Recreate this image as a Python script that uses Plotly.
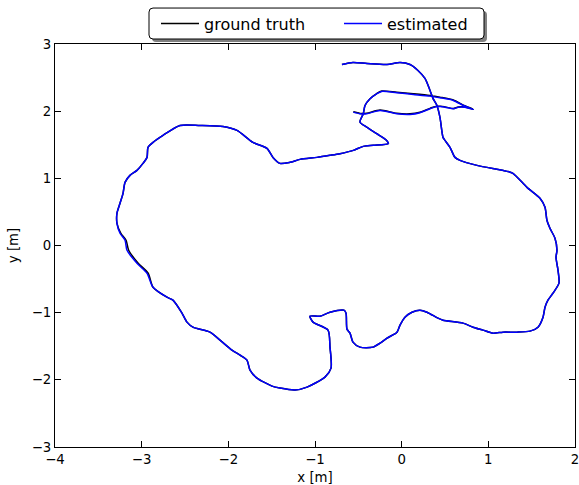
import plotly.graph_objects as go

# ground truth trajectory (metres)
gt_x = [-0.558, -0.481, -0.404, -0.250, -0.057, 0.096, 0.211, 0.327, 0.404, 0.500, 0.596, 0.653, 0.731, 0.826,
        0.711, 0.596, 0.442, 0.327, 0.134, -0.057, -0.231, -0.288, -0.365, -0.423, -0.443, -0.481, -0.404, -0.288,
        -0.173, -0.154, -0.327, -0.443, -0.558, -0.712, -0.827, -0.977, -1.173, -1.289, -1.404, -1.485, -1.554,
        -1.716, -1.900, -2.062, -2.327, -2.558, -2.754, -2.869, -2.927, -2.938, -2.985, -3.054, -3.135, -3.192,
        -3.215, -3.250, -3.285, -3.285, -3.240, -3.180, -3.150, -3.040, -2.925, -2.869, -2.708, -2.639, -2.535,
        -2.477, -2.408, -2.212, -2.096, -1.958, -1.865, -1.785, -1.750, -1.669, -1.496, -1.404, -1.231, -1.092,
        -0.885, -0.815, -0.827, -0.850, -1.023, -1.058, -0.942, -0.827, -0.666, -0.642, -0.631, -0.596, -0.562,
        -0.481, -0.331, -0.250, -0.169, -0.054, -0.019, 0.038, 0.119, 0.211, 0.292, 0.419, 0.477, 0.707, 0.823,
        0.938, 1.054, 1.169, 1.331, 1.481, 1.573, 1.631, 1.654, 1.688, 1.746, 1.815, 1.804, 1.781, 1.792, 1.769,
        1.711, 1.676, 1.654, 1.596, 1.446, 1.284, 1.215, 0.869, 0.673, 0.615, 0.558, 0.500, 0.477, 0.442, 0.407,
        0.361, 0.327, 0.269, 0.188, 0.096, -0.019, -0.169, -0.400, -0.562, -0.689]
gt_y = [1.990, 1.967, 1.968, 2.016, 1.968, 1.960, 1.983, 2.042, 2.075, 2.063, 2.039, 2.062, 2.062, 2.028,
        2.090, 2.168, 2.209, 2.233, 2.259, 2.282, 2.300, 2.262, 2.185, 2.085, 1.962, 1.837, 1.763, 1.665,
        1.565, 1.516, 1.491, 1.476, 1.416, 1.367, 1.342, 1.312, 1.282, 1.238, 1.223, 1.312, 1.446,
        1.535, 1.714, 1.773, 1.788, 1.788, 1.639, 1.535, 1.461, 1.312, 1.223, 1.119, 1.044, 0.940,
        0.777, 0.628, 0.480, 0.331, 0.182, 0.078, -0.071, -0.264, -0.413, -0.621, -0.770, -0.814, -1.007,
        -1.141, -1.216, -1.290, -1.409, -1.558, -1.632, -1.706, -1.855, -1.974, -2.093, -2.123, -2.152, -2.108,
        -1.959, -1.825, -1.513, -1.260, -1.141, -1.052, -1.052, -0.993, -0.963, -1.007, -1.245, -1.305, -1.439,
        -1.513, -1.513, -1.454, -1.379, -1.290, -1.186, -1.067, -0.993, -0.963, -0.993, -1.082, -1.112, -1.156, -1.216,
        -1.260, -1.305, -1.290, -1.290, -1.275, -1.216, -1.067, -0.918, -0.814, -0.710, -0.561, -0.368, -0.175, -0.071, 0.108,
        0.256, 0.375, 0.569, 0.703, 0.866, 1.074, 1.104, 1.193, 1.268, 1.312, 1.461, 1.565, 1.610, 1.907, 2.085,
        2.190, 2.309, 2.487, 2.606, 2.695, 2.725, 2.695, 2.710, 2.725, 2.695]

# estimated trajectory (metres)
est_x = [-0.558, -0.481, -0.404, -0.250, -0.057, 0.096, 0.211, 0.327, 0.404, 0.500, 0.596, 0.653, 0.731, 0.826,
         0.711, 0.596, 0.442, 0.327, 0.134, -0.057, -0.231, -0.288, -0.365, -0.423, -0.443, -0.481, -0.404, -0.288,
         -0.173, -0.154, -0.327, -0.443, -0.558, -0.712, -0.827, -0.977, -1.173, -1.289, -1.404, -1.485, -1.554,
         -1.716, -1.900, -2.062, -2.327, -2.558, -2.754, -2.869, -2.927, -2.938, -2.985, -3.054, -3.135, -3.192,
         -3.215, -3.250, -3.285, -3.285, -3.250, -3.192, -3.169, -3.054, -2.938, -2.869, -2.708, -2.639, -2.535,
         -2.477, -2.408, -2.212, -2.096, -1.958, -1.865, -1.785, -1.750, -1.669, -1.496, -1.404, -1.231, -1.092,
         -0.885, -0.815, -0.827, -0.850, -1.023, -1.058, -0.942, -0.827, -0.666, -0.642, -0.631, -0.596, -0.562,
         -0.481, -0.331, -0.250, -0.169, -0.054, -0.019, 0.038, 0.119, 0.211, 0.292, 0.419, 0.477, 0.707, 0.823,
         0.938, 1.054, 1.169, 1.331, 1.481, 1.573, 1.631, 1.654, 1.688, 1.746, 1.815, 1.804, 1.781, 1.792, 1.769,
         1.711, 1.676, 1.654, 1.596, 1.446, 1.284, 1.215, 0.869, 0.673, 0.615, 0.558, 0.500, 0.477, 0.442, 0.407,
         0.361, 0.327, 0.269, 0.188, 0.096, -0.019, -0.169, -0.400, -0.562, -0.689]
est_y = [1.986, 1.962, 1.962, 2.011, 1.962, 1.952, 1.977, 2.036, 2.071, 2.060, 2.036, 2.060, 2.060, 2.026,
         2.085, 2.160, 2.200, 2.224, 2.249, 2.274, 2.294, 2.259, 2.185, 2.085, 1.962, 1.837, 1.763, 1.665,
         1.565, 1.516, 1.491, 1.476, 1.416, 1.367, 1.342, 1.312, 1.282, 1.238, 1.223, 1.312, 1.446,
         1.535, 1.714, 1.773, 1.788, 1.788, 1.639, 1.535, 1.461, 1.312, 1.223, 1.119, 1.044, 0.940,
         0.777, 0.628, 0.480, 0.331, 0.182, 0.078, -0.071, -0.264, -0.413, -0.621, -0.770, -0.814, -1.007,
         -1.141, -1.216, -1.290, -1.409, -1.558, -1.632, -1.706, -1.855, -1.974, -2.093, -2.123, -2.152, -2.108,
         -1.959, -1.825, -1.513, -1.260, -1.141, -1.052, -1.052, -0.993, -0.963, -1.007, -1.245, -1.305, -1.439,
         -1.513, -1.513, -1.454, -1.379, -1.290, -1.186, -1.067, -0.993, -0.963, -0.993, -1.082, -1.112, -1.156, -1.216,
         -1.260, -1.305, -1.290, -1.290, -1.275, -1.216, -1.067, -0.918, -0.814, -0.710, -0.561, -0.368, -0.175, -0.071, 0.108,
         0.256, 0.375, 0.569, 0.703, 0.866, 1.074, 1.104, 1.193, 1.268, 1.312, 1.461, 1.565, 1.610, 1.907, 2.085,
         2.190, 2.309, 2.487, 2.606, 2.695, 2.725, 2.695, 2.710, 2.725, 2.695]

series_names = ["ground truth", "estimated"]
series_colors = ["#000000", "#0000ff"]
x_ticks = [-4, -3, -2, -1, 0, 1, 2]
y_ticks = [-3, -2, -1, 0, 1, 2, 3]

FONT = "DejaVu Sans, Arial, sans-serif"

# plot-area geometry in pixels (used only to place the legend frame)
PL, PR, PT, PB = 55, 575, 43.5, 447.0


def px2paper_x(px):
    return (px - PL) / (PR - PL)


def px2paper_y(py):
    return (PB - py) / (PB - PT)


def rounded_rect_path(x0, y0, x1, y1, r):
    # pixel coordinates -> paper path with rounded corners
    X0, X1 = px2paper_x(x0), px2paper_x(x1)
    Y0, Y1 = px2paper_y(y1), px2paper_y(y0)  # Y0 bottom, Y1 top
    rx = r / (PR - PL)
    ry = r / (PB - PT)
    return (f"M {X0+rx},{Y1} L {X1-rx},{Y1} Q {X1},{Y1} {X1},{Y1-ry} "
            f"L {X1},{Y0+ry} Q {X1},{Y0} {X1-rx},{Y0} "
            f"L {X0+rx},{Y0} Q {X0},{Y0} {X0},{Y0+ry} "
            f"L {X0},{Y1-ry} Q {X0},{Y1} {X0+rx},{Y1} Z")


fig = go.Figure()
fig.add_trace(go.Scatter(x=gt_x, y=gt_y, mode="lines", name=series_names[0],
                         line=dict(color=series_colors[0], width=1.5, shape="spline", smoothing=0.7)))
fig.add_trace(go.Scatter(x=est_x, y=est_y, mode="lines", name=series_names[1],
                         line=dict(color=series_colors[1], width=1.5, shape="spline", smoothing=0.7)))

axis_common = dict(showgrid=False, zeroline=False, showline=True, linecolor="black", linewidth=1,
                   mirror="ticks", ticks="inside", ticklen=6, tickwidth=1, tickcolor="black",
                   tickfont=dict(family=FONT, size=13.3, color="black"), automargin=False,
                   ticklabeloverflow="allow")

# legend frame: shadow then rounded box
fig.add_shape(type="path", xref="paper", yref="paper",
              path=rounded_rect_path(152, 10.5, 487, 41.5, 4),
              line=dict(width=0), fillcolor="#808080", layer="above")
fig.add_shape(type="path", xref="paper", yref="paper",
              path=rounded_rect_path(149, 7.5, 484, 38.5, 4),
              line=dict(width=1, color="black"), fillcolor="white", layer="above")

fig.update_layout(
    width=579, height=485,
    margin=dict(l=55, r=4, t=44, b=38, autoexpand=False),
    paper_bgcolor="white", plot_bgcolor="white",
    font=dict(family=FONT, size=13.3, color="black"),
    xaxis=dict(range=[-4, 2], tickvals=x_ticks, title=dict(text="x [m]", standoff=6,
               font=dict(family=FONT, size=13.3)), **axis_common),
    yaxis=dict(range=[-3, 3], tickvals=y_ticks, title=dict(text="y [m]", standoff=10,
               font=dict(family=FONT, size=13.3)), **axis_common),
    legend=dict(orientation="h", x=px2paper_x(156), xanchor="left",
                y=px2paper_y(23), yanchor="middle",
                borderwidth=0, bgcolor="rgba(0,0,0,0)",
                font=dict(family=FONT, size=16), entrywidth=130, itemwidth=38,
                traceorder="normal"),
    showlegend=True,
)

fig.write_html("out.html", config={"displayModeBar": False},
               post_script="document.body.style.margin='0px';document.body.style.overflow='hidden';")
